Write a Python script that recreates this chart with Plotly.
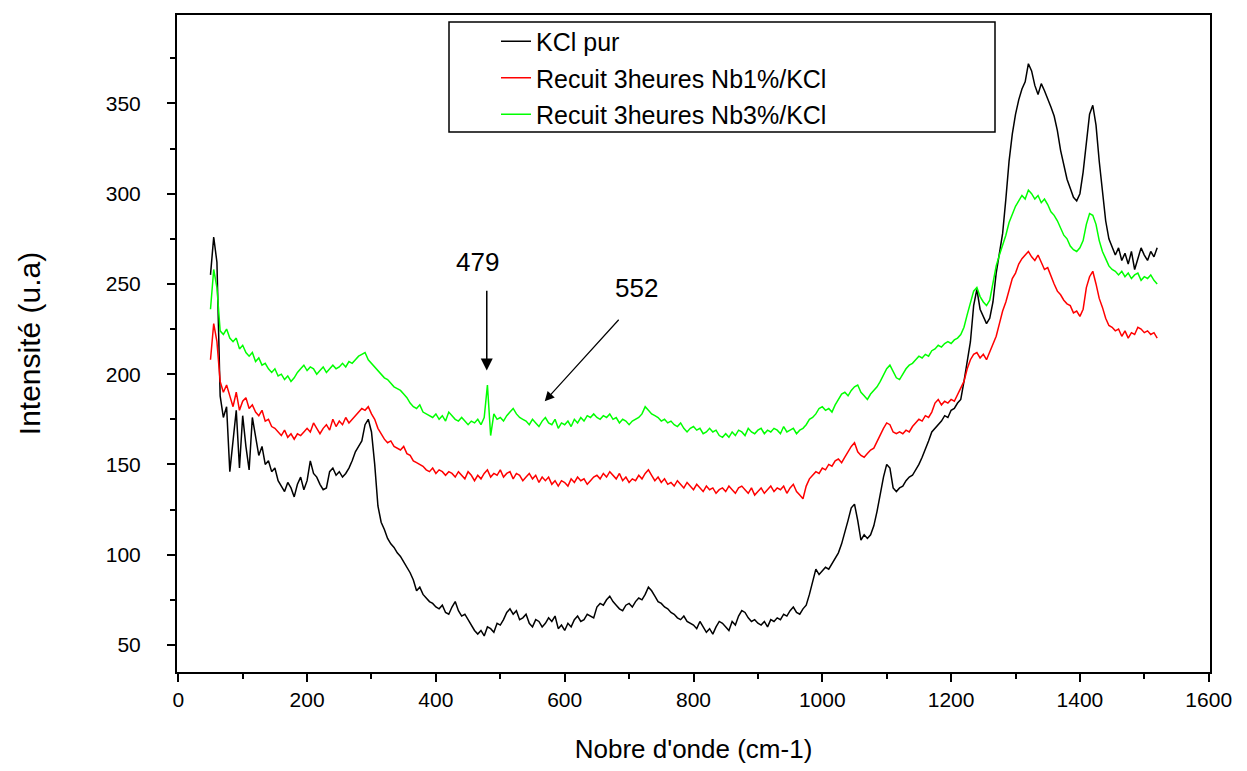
import plotly.graph_objects as go

# Wavenumber grid (cm-1), sampled every 5 cm-1 from 50 to 1520
wavenumber = list(range(50, 1525, 5))

kcl_pur = [
    255, 276, 262, 188, 176, 182, 146, 165, 180, 148,
    177, 160, 147, 176, 165, 155, 160, 150, 152, 146,
    148, 141, 138, 135, 140, 137, 132, 139, 143, 136,
    141, 152, 145, 143, 139, 136, 137, 146, 148, 144,
    146, 143, 145, 148, 152, 157, 160, 163, 172, 175,
    168, 150, 127, 118, 114, 109, 106, 104, 101, 99,
    96, 93, 90, 86, 80, 82, 78, 76, 74, 73,
    71, 70, 72, 68, 67, 71, 74, 69, 66, 67,
    64, 61, 58, 56, 58, 55, 60, 59, 57, 62,
    61, 64, 68, 70, 67, 69, 64, 65, 67, 62,
    60, 64, 63, 60, 62, 65, 63, 66, 59, 61,
    58, 62, 60, 64, 66, 63, 64, 67, 66, 65,
    71, 73, 72, 75, 77, 74, 72, 70, 69, 72,
    73, 71, 74, 76, 75, 78, 82, 80, 77, 74,
    73, 71, 70, 68, 67, 65, 64, 66, 63, 62,
    61, 59, 63, 60, 57, 59, 56, 60, 63, 62,
    60, 58, 63, 61, 66, 69, 68, 65, 63, 64,
    62, 61, 63, 60, 64, 63, 65, 64, 67, 66,
    69, 71, 68, 67, 70, 72, 78, 85, 92, 89,
    91, 93, 92, 95, 98, 101, 106, 112, 119, 126,
    128, 119, 108, 111, 109, 111, 116, 124, 134, 143,
    150, 148, 137, 135, 137, 138, 141, 143, 144, 147,
    150, 154, 158, 163, 168, 170, 172, 174, 177, 176,
    180, 181, 184, 186, 196, 208, 218, 238, 247, 236,
    232, 228, 231, 240, 256, 268, 278, 297, 318, 333,
    344, 352, 358, 362, 372, 368, 360, 355, 361, 357,
    353, 348, 343, 335, 324, 316, 308, 303, 298, 296,
    300, 312, 330, 344, 349, 338, 318, 300, 285, 275,
    271, 266, 270, 263, 267, 261, 268, 258, 264, 270,
    266, 263, 268, 265, 270,
]

nb1_kcl = [
    208, 228, 218, 196, 190, 194, 188, 182, 190, 180,
    185, 187, 181, 183, 179, 177, 180, 174, 175, 171,
    170, 168, 166, 169, 165, 167, 164, 167, 166, 168,
    170, 168, 173, 170, 167, 170, 172, 169, 175, 171,
    174, 172, 176, 173, 175, 177, 179, 181, 180, 182,
    178, 175, 170, 167, 164, 162, 163, 160, 159, 158,
    160, 156, 155, 152, 151, 150, 149, 147, 146, 148,
    145, 147, 146, 144, 146, 145, 143, 146, 144, 142,
    146, 144, 141, 144, 142, 145, 147, 143, 145, 144,
    147, 143, 145, 146, 142, 145, 144, 141, 143, 145,
    142, 144, 140, 143, 141, 143, 139, 141, 138, 141,
    140, 138, 142, 140, 143, 141, 142, 139, 141, 143,
    144, 142, 145, 143, 146, 144, 142, 145, 141, 143,
    140, 142, 141, 144, 142, 145, 147, 144, 141, 143,
    140, 142, 139, 140, 138, 141, 139, 137, 140, 138,
    136, 139, 137, 135, 138, 136, 137, 134, 136, 137,
    135, 138, 136, 134, 137, 138, 136, 134, 137, 133,
    135, 137, 134, 136, 138, 135, 137, 136, 138, 134,
    137, 139, 135, 133, 131, 138, 142, 144, 146, 145,
    148, 147, 150, 149, 152, 153, 151, 154, 157, 160,
    162, 157, 155, 154, 156, 158, 159, 163, 167, 170,
    173, 172, 168, 167, 168, 167, 169, 168, 171, 173,
    175, 174, 177, 176, 179, 184, 186, 183, 185, 184,
    186, 185, 189, 193, 196, 203, 208, 211, 212, 209,
    211, 208, 212, 216, 221, 228, 235, 240, 247, 253,
    256, 261, 264, 266, 268, 265, 263, 266, 262, 258,
    259, 254, 250, 246, 244, 241, 239, 238, 234, 235,
    232, 236, 248, 254, 257, 250, 242, 237, 231, 227,
    226, 224, 225, 221, 224, 220, 223, 222, 226, 225,
    223, 224, 222, 223, 220,
]

nb3_kcl = [
    236, 258, 248, 224, 222, 225, 220, 218, 220, 214,
    216, 212, 210, 212, 207, 209, 205, 206, 203, 201,
    203, 199, 200, 197, 199, 196, 198, 201, 203, 205,
    202, 204, 203, 200, 202, 204, 201, 203, 205, 203,
    204, 206, 204, 207, 206, 208, 210, 211, 212, 208,
    206, 204, 202, 200, 198, 197, 195, 193, 192, 191,
    189, 187, 184, 182, 181, 183, 179, 178, 177, 176,
    178, 175, 177, 174, 179, 177, 175, 174, 176, 174,
    172, 174, 173, 175, 172, 176, 194, 166, 178, 175,
    176, 174, 177, 179, 181, 178, 176, 175, 174, 172,
    175, 173, 171, 174, 176, 173, 172, 175, 170, 173,
    172, 174, 171, 175, 173, 176, 174, 177, 176, 178,
    176, 175, 177, 176, 178, 175, 176, 173, 175, 174,
    172, 174, 175, 176, 178, 182, 180, 178, 177, 176,
    174, 175, 173, 174, 172, 171, 173, 170, 168, 170,
    171, 169, 170, 167, 168, 170, 168, 169, 166, 165,
    167, 165, 168, 166, 169, 168, 166, 170, 168, 167,
    169, 170, 167, 169, 168, 170, 169, 167, 171, 168,
    169, 170, 167, 169, 170, 172, 175, 176, 178, 181,
    182, 180, 181, 179, 183, 186, 189, 190, 188, 191,
    193, 194, 190, 188, 186, 189, 191, 193, 196, 200,
    203, 205, 201, 198, 197, 200, 203, 205, 206, 208,
    210, 209, 211, 210, 213, 214, 216, 215, 217, 218,
    217, 219, 220, 222, 226, 233, 240, 246, 248, 243,
    240, 238, 241, 250, 260, 266, 271, 277, 284, 289,
    293, 296, 299, 297, 302, 300, 297, 299, 295, 297,
    294, 290, 288, 285, 281, 277, 275, 271, 269, 268,
    270, 274, 283, 289, 288, 283, 274, 268, 264, 260,
    258, 257, 255, 257, 254, 256, 253, 255, 256, 252,
    254, 253, 255, 252, 250,
]

series_names = ["KCl pur", "Recuit 3heures Nb1%/KCl", "Recuit 3heures Nb3%/KCl"]
series_values = [kcl_pur, nb1_kcl, nb3_kcl]
series_colors = ["#000000", "#ff0000", "#00ff00"]

x_ticks = [0, 200, 400, 600, 800, 1000, 1200, 1400, 1600]
y_ticks = [50, 100, 150, 200, 250, 300, 350]

FONT = "Liberation Sans, Arial, sans-serif"

fig = go.Figure()
for i, (name, vals, col) in enumerate(zip(series_names, series_values, series_colors)):
    fig.add_trace(go.Scatter(
        x=wavenumber, y=vals, mode="lines", name=name,
        line=dict(color=col, width=1.5), legendgroup=f"g{i}",
    ))

axis_common = dict(
    showline=True, linecolor="black", linewidth=2, mirror=True,
    ticks="outside", ticklen=8, tickwidth=2, tickcolor="black",
    showgrid=False, zeroline=False,
    tickfont=dict(family=FONT, size=21, color="black"),
)

fig.update_xaxes(
    range=[-2, 1602], tickvals=x_ticks, ticktext=[str(v) for v in x_ticks],
    minor=dict(ticks="outside", ticklen=5, tickwidth=2, tickcolor="black", dtick=100, tick0=0),
    title=dict(text="Nobre d'onde (cm-1)", font=dict(family=FONT, size=26, color="black"), standoff=30),
    **axis_common,
)
fig.update_yaxes(
    range=[35, 399], tickvals=y_ticks, ticktext=[str(v) for v in y_ticks],
    minor=dict(ticks="outside", ticklen=5, tickwidth=2, tickcolor="black", dtick=25, tick0=0),
    ticklabelstandoff=22,
    title=dict(text="Intensité (u.a)", font=dict(family=FONT, size=30, color="black"), standoff=56),
    **axis_common,
)

# Annotations (peaks)
fig.add_annotation(x=465, y=262, text="479", showarrow=False,
                   font=dict(family=FONT, size=26, color="black"))
fig.add_annotation(x=479, y=202, ax=479, ay=247, xref="x", yref="y", axref="x", ayref="y",
                   text="", showarrow=True, arrowhead=2, arrowsize=1.6, arrowwidth=1.5,
                   arrowcolor="black")
fig.add_annotation(x=712, y=248, text="552", showarrow=False,
                   font=dict(family=FONT, size=26, color="black"))
fig.add_annotation(x=569, y=185, ax=686, ay=231, xref="x", yref="y", axref="x", ayref="y",
                   text="", showarrow=True, arrowhead=2, arrowsize=1.6, arrowwidth=1.2,
                   arrowcolor="black")

# Legend frame (matches the boxed legend of the original figure)
fig.add_shape(type="rect", xref="paper", yref="paper",
              x0=(449 - 177) / 1033, x1=(995 - 177) / 1033,
              y0=1 - (132 - 15) / 657, y1=1 - (22 - 15) / 657,
              line=dict(color="black", width=1.5), fillcolor="white", layer="above")

fig.update_layout(
    width=1247, height=771,
    margin=dict(l=177, r=37, t=15, b=99),
    paper_bgcolor="white", plot_bgcolor="white",
    font=dict(family=FONT, color="black"),
    legend=dict(
        x=(496 - 177) / 1033, y=0.9945, xanchor="left", yanchor="top",
        bgcolor="rgba(0,0,0,0)", borderwidth=0,
        font=dict(family=FONT, size=25, color="black"),
        traceorder="grouped", tracegroupgap=1,
    ),
    showlegend=True,
)

fig.write_html("out.html")
